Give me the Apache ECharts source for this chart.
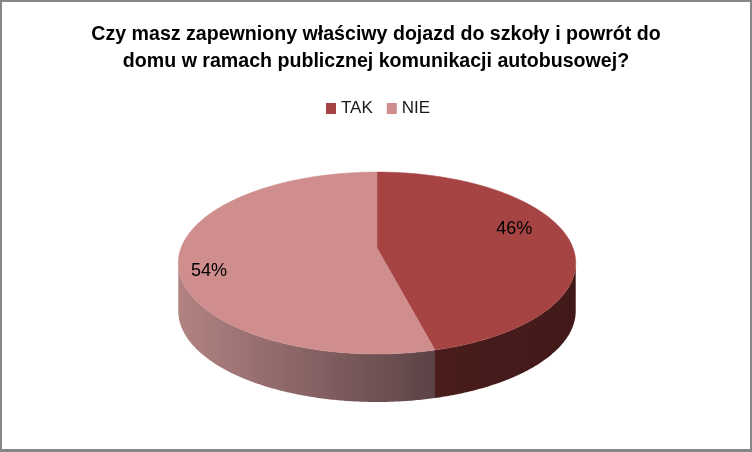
<!DOCTYPE html>
<html>
<head>
<meta charset="utf-8">
<script src="https://cdn.jsdelivr.net/npm/echarts@6/dist/echarts.min.js"></script>
<style>
html,body{margin:0;padding:0;background:#fff;}
#frame{width:752px;height:452px;box-sizing:border-box;border:2px solid #878787;border-bottom-width:3px;background:#fff;}
#chart{width:748px;height:447px;}
</style>
</head>
<body>
<div id="frame"><div id="chart"></div></div>
<script>
// ---- data ----
const titleText = 'Czy masz zapewniony właściwy dojazd do szkoły i powrót do\ndomu w ramach publicznej komunikacji autobusowej?';
const categories = ['TAK', 'NIE'];
const values = [46, 54];

// ---- style ----
const topColors = ['#A64444', '#CF8E8D'];
const sideColors = [
  ['#4A1C1C', '#421919'],
  ['#B38383', '#5C4346']
];
const FONT = '"Liberation Sans", Arial, sans-serif';

// ---- layout (pseudo-3D perspective pie) ----
const L = { cx: 375, cy: 246, A: 196, B: 88.5, p: 0.165, depth: 48, startAngle: 90,
            labelShift: 10, labelRadius: [0.76, 0.86] };

const total = values.reduce((a, b) => a + b, 0);
const DEG = Math.PI / 180;

function proj(deg, r, dy) {
  const u = r * Math.cos(deg * DEG), v = r * Math.sin(deg * DEG);
  const w = 1 + L.p * v;
  return [L.cx + L.A * u / w, L.cy - L.B * v / w + (dy || 0)];
}
function rim(a, b, dy) { // a > b, degrees, clockwise
  const pts = [];
  const n = Math.max(2, Math.ceil((a - b) / 0.5));
  for (let i = 0; i <= n; i++) pts.push(proj(a - (a - b) * i / n, 1, dy));
  return pts;
}

const sil = Math.asin(L.p) / DEG; // silhouette angle
const frontHi = -sil, frontLo = -180 + sil;

function renderItem(params, api) {
  const idx = params.seriesIndex;
  let cum = 0;
  for (let i = 0; i < idx; i++) cum += values[i];
  const start = L.startAngle - 360 * cum / total;
  const end = start - 360 * values[idx] / total;
  const children = [];

  // side face(s)
  for (let k = -1; k <= 1; k++) {
    const hi = Math.min(start, frontHi + 360 * k);
    const lo = Math.max(end, frontLo + 360 * k);
    if (hi > lo) {
      const top = rim(hi, lo, 0);
      const bot = rim(hi, lo, L.depth).reverse();
      const xa = Math.min(...top.map(p => p[0])), xb = Math.max(...top.map(p => p[0]));
      children.push({
        type: 'polygon',
        shape: { points: top.concat(bot) },
        style: {
          fill: {
            type: 'linear', global: true, x: xa, y: 0, x2: xb, y2: 0,
            colorStops: [{ offset: 0, color: sideColors[idx][0] }, { offset: 1, color: sideColors[idx][1] }]
          },
          stroke: null
        }
      });
    }
  }
  // top face
  const c = proj(0, 0);
  children.push({
    type: 'polygon',
    shape: { points: [c].concat(rim(start, end, 0)) },
    style: { fill: topColors[idx], stroke: topColors[idx], lineWidth: 0.5 }
  });
  // label
  const mid = (start + end) / 2 + L.labelShift;
  const lp = proj(mid, L.labelRadius[idx]);
  children.push({
    type: 'text',
    x: lp[0], y: lp[1],
    style: {
      text: Math.round(values[idx] / total * 100) + '%',
      fill: '#000', font: '18px ' + FONT,
      align: 'center', verticalAlign: 'middle'
    }
  });
  return { type: 'group', children };
}

const chart = echarts.init(document.getElementById('chart'));
chart.setOption({
  animation: false,
  title: {
    text: titleText,
    left: 374, top: 19,
    padding: 0,
    textAlign: 'center',
    textStyle: { fontFamily: FONT, fontWeight: 'bold', fontSize: 19.6, lineHeight: 27, color: '#000' }
  },
  legend: {
    data: categories,
    top: 98, left: 324,
    padding: 0,
    icon: 'rect', itemWidth: 10, itemHeight: 11, itemGap: 14,
    selectedMode: false,
    textStyle: { fontFamily: FONT, fontSize: 17, color: '#1a1a1a' }
  },
  series: categories.map((name, i) => ({
    type: 'custom',
    name: name,
    coordinateSystem: 'none',
    itemStyle: { color: topColors[i] },
    silent: true,
    data: [[values[i]]],
    renderItem: renderItem
  }))
});
</script>
</body>
</html>
